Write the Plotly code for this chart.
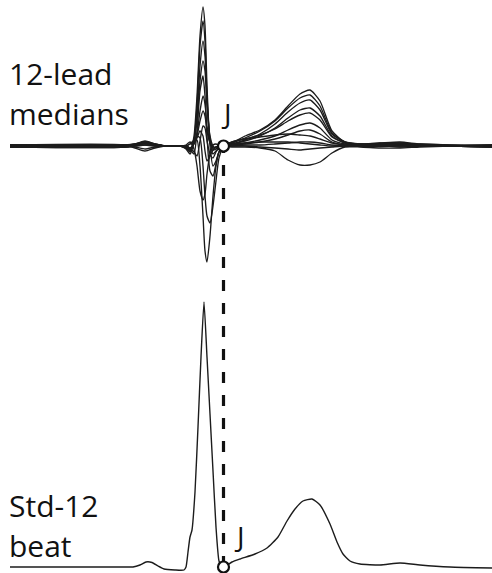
import plotly.graph_objects as go

# ---- data (time in ms, amplitude in microvolts) ----
t_leads = [0, 230, 250, 270, 290, 310, 340, 352, 360, 368, 374, 380, 386, 390, 394, 400, 406, 412,
           418, 428, 444, 470, 500, 530, 556, 580, 600, 620, 644, 670, 700, 740, 780, 820, 880, 964]

lead_V4 = [10, 10, 20, 40, 20, 0, 0, -20, -60, 100, 500, 1100, 1390, 1200, 600, 0, -200, -150,
           -60, 0, 30, 100, 160, 260, 400, 520, 560, 450, 150, 40, 20, 30, 40, 20, 10, 10]
lead_V5 = [0, 0, 20, 40, 20, 0, 0, -30, -80, 50, 400, 1000, 1250, 1050, 500, 50, -80, -50,
           -20, 0, 30, 80, 150, 250, 380, 480, 510, 400, 130, 40, 20, 30, 30, 20, 10, 0]
lead_V6 = [-10, -10, 10, 30, 10, 0, 0, -20, -50, 50, 300, 800, 1050, 900, 450, 80, -40, -30,
           -10, 0, 20, 60, 120, 220, 340, 430, 460, 360, 120, 40, 20, 20, 20, 10, 0, -10]
lead_II = [10, 10, 20, 50, 20, 0, 0, -10, -40, 50, 250, 650, 850, 750, 400, 100, 0, -20,
           -10, 0, 20, 50, 100, 180, 280, 360, 380, 300, 100, 30, 10, 20, 30, 10, 0, 0]
lead_V3 = [0, 0, 10, 30, 10, 0, 0, 0, -30, -80, 150, 550, 700, 500, 100, -250, -300, -180,
           -60, 0, 40, 70, 110, 170, 250, 310, 330, 260, 90, 30, 10, 20, 20, 10, 0, 10]
lead_I = [-10, -10, 10, 30, 10, 0, 0, -10, -30, 30, 120, 350, 500, 420, 200, 40, -20, -10,
          0, 0, 10, 30, 60, 100, 160, 210, 230, 180, 60, 20, 10, 10, 10, 10, 0, -10]
lead_aVF = [10, 10, 10, 30, 10, 0, 0, 0, -20, 20, 100, 250, 350, 300, 150, 30, -20, -10,
            0, 0, 10, 20, 40, 70, 110, 150, 160, 120, 40, 10, 0, 10, 10, 0, 0, 0]
lead_V2 = [0, 0, 0, 10, 0, 0, 0, 0, 20, 60, 100, 80, -200, -500, -700, -770, -600, -350,
           -120, 0, 40, 70, 90, 110, 120, 110, 100, 70, 30, 10, 0, 0, 0, 0, 0, 0]
lead_V1 = [-10, -10, -10, -30, -10, 0, 0, 0, 20, 50, 60, -200, -700, -1050, -1160, -900, -500, -200,
           -60, 0, 20, 30, 40, 40, 40, 30, 20, 10, 0, 0, 0, 0, -10, 0, 0, -10]
lead_aVR = [10, 10, -20, -50, -20, 0, 0, 10, 40, -30, -200, -450, -540, -480, -280, -80, 10, 20,
            10, 0, -10, -10, -20, -50, -140, -190, -190, -160, -70, -10, -10, -20, -20, -10, 0, 10]
lead_III = [0, 0, 10, 20, 10, 0, 0, 0, -20, -60, -100, 50, 200, 180, 50, -80, -120, -60,
            -20, 0, 0, 10, 10, 20, 30, 40, 40, 30, 10, 0, 0, 0, 10, 0, 0, 0]
lead_aVL = [-10, -10, 0, 10, 0, 0, 0, -10, -30, 20, 80, 150, 100, -50, -150, -100, -40, -10,
            0, 0, 0, 0, -10, -20, -30, -40, -30, -20, -10, 0, 0, 0, 0, 0, 0, -10]

leads = [lead_V4, lead_V5, lead_V6, lead_II, lead_V3, lead_I,
         lead_aVF, lead_V2, lead_V1, lead_aVR, lead_III, lead_aVL]

t_beat = [0, 230, 246, 260, 272, 284, 296, 308, 330, 348, 352, 356, 360, 364, 370, 376, 382, 388,
          394, 400, 406, 412, 418, 424, 428, 444, 460, 490, 514, 536, 554, 570, 586, 604, 620,
          640, 654, 666, 680, 700, 740, 780, 820, 880, 964]
std12_beat = [0, 0, 0, 20, 50, 45, 10, -20, -30, -30, 0, 150, 300, 370, 750, 1400, 2100, 2650,
              2100, 1530, 960, 400, 60, 0, 0, 50, 80, 130, 190, 300, 460, 580, 660, 680, 620,
              430, 250, 130, 60, 30, 20, 40, 20, 0, -10]

j_time = 427
j_amp = 0

label_top = ["12-lead", "medians"]
label_bottom = ["Std-12", "beat"]
j_label = "J"

# ---- figure ----
W, H = 492, 573
x_range = [-20, 964]
y1_range = [-1405, 1460]
y1_dom = [0.5, 1.0]
y2_range = [-60, 2805]
y2_dom = [0.0, 0.5]

fig = go.Figure()

line_col = "#1c1c1c"
for v in leads:
    fig.add_trace(go.Scatter(x=t_leads, y=v, mode="lines", xaxis="x", yaxis="y",
                             line=dict(color=line_col, width=1.35, shape="spline", smoothing=0.6),
                             hoverinfo="skip", showlegend=False))

fig.add_trace(go.Scatter(x=t_beat, y=std12_beat, mode="lines", xaxis="x", yaxis="y2",
                         line=dict(color=line_col, width=1.4, shape="spline", smoothing=0.5),
                         hoverinfo="skip", showlegend=False))

# J markers
for ya in ["y", "y2"]:
    fig.add_trace(go.Scatter(x=[j_time], y=[j_amp], mode="markers", xaxis="x", yaxis=ya,
                             marker=dict(size=11, color="white", line=dict(color="#111111", width=2.2)),
                             hoverinfo="skip", showlegend=False, cliponaxis=False))


def to_paper(val, rng, dom):
    return dom[0] + (val - rng[0]) / (rng[1] - rng[0]) * (dom[1] - dom[0])


y_top_paper = to_paper(j_amp, y1_range, y1_dom)
y_bot_paper = to_paper(j_amp, y2_range, y2_dom)

fig.add_shape(type="line", xref="x", yref="paper", x0=j_time, x1=j_time,
              y0=y_bot_paper, y1=y_top_paper, layer="below",
              line=dict(color="#111111", width=3.2, dash="11px,12px"))

font = dict(family="Open Sans", size=30, color="#111111")
jfont = dict(family="Open Sans", size=28, color="#111111")


def ann(text, px, py, f, xanchor="left"):
    return dict(text=text, x=px / W, y=1 - py / H, xref="paper", yref="paper",
                xanchor=xanchor, yanchor="middle", showarrow=False, font=f)


fig.update_layout(
    width=W, height=H,
    margin=dict(l=0, r=0, t=0, b=0),
    paper_bgcolor="white", plot_bgcolor="white",
    xaxis=dict(range=x_range, visible=False, domain=[0, 1], anchor="y"),
    yaxis=dict(range=y1_range, domain=y1_dom, visible=False, anchor="x"),
    yaxis2=dict(range=y2_range, domain=y2_dom, visible=False, anchor="x"),
    annotations=[
        ann(label_top[0], 7, 73, font),
        ann(label_top[1], 7, 113, font),
        ann(label_bottom[0], 7, 505, font),
        ann(label_bottom[1], 7, 545, font),
        ann(j_label, 226, 113, jfont, xanchor="center"),
        ann(j_label, 239, 536, jfont, xanchor="center"),
    ],
)

fig.write_html("out.html", config={"displayModeBar": False},
               post_script="document.body.style.margin='0px';")
